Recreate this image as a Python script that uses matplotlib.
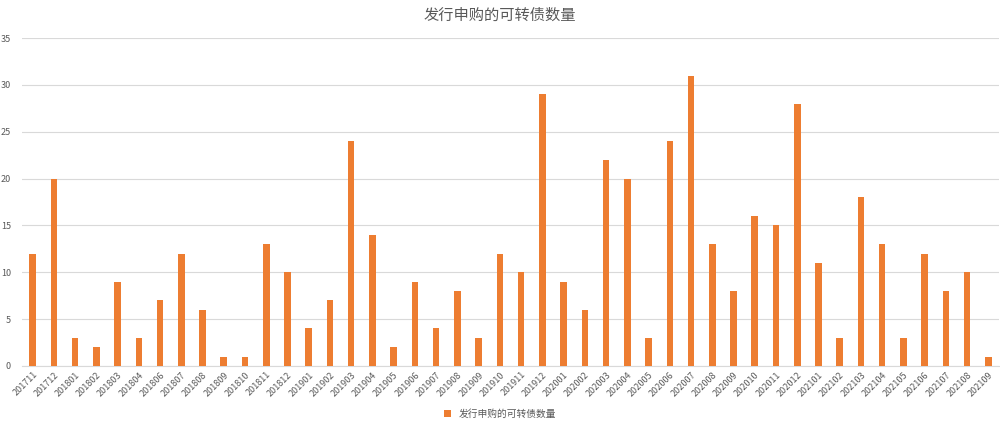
import matplotlib.pyplot as plt

plt.rcParams['font.family'] = ['Noto Sans CJK SC', 'DejaVu Sans']

months = ["201711", "201712", "201801", "201802", "201803", "201804", "201806", "201807",
          "201808", "201809", "201810", "201811", "201812", "201901", "201902", "201903",
          "201904", "201905", "201906", "201907", "201908", "201909", "201910", "201911",
          "201912", "202001", "202002", "202003", "202004", "202005", "202006", "202007",
          "202008", "202009", "202010", "202011", "202012", "202101", "202102", "202103",
          "202104", "202105", "202106", "202107", "202108", "202109"]
counts = [12, 20, 3, 2, 9, 3, 7, 12, 6, 1, 1, 13, 10, 4, 7, 24, 14, 2, 9, 4, 8, 3, 12, 10,
          29, 9, 6, 22, 20, 3, 24, 31, 13, 8, 16, 15, 28, 11, 3, 18, 13, 3, 12, 8, 10, 1]
series_name = "发行申购的可转债数量"

fig = plt.figure(figsize=(10, 4.28), dpi=100)
ax = fig.add_axes([0.022, 0.145, 0.977, 0.766])

x = range(len(months))
ax.bar(x, counts, width=0.31, color="#ED7D31", label=series_name, zorder=3)

ax.set_xlim(-0.5, len(months) - 0.5)
ax.set_ylim(0, 35)
ax.set_yticks(range(0, 36, 5))
ax.set_xticks(list(x))
ax.set_xticklabels(months, rotation=45, ha="right", rotation_mode="anchor",
                   fontsize=6.5, color="#595959")
ax.tick_params(axis="y", labelsize=6.5, labelcolor="#595959", length=0, pad=8)
ax.tick_params(axis="x", length=0, pad=3)
ax.grid(axis="y", color="#D9D9D9", linewidth=0.8, zorder=0)
for s in ["top", "right", "left"]:
    ax.spines[s].set_visible(False)
ax.spines["bottom"].set_color("#D9D9D9")

fig.suptitle(series_name, y=0.985, fontsize=11, color="#595959")
fig.legend(loc="lower center", bbox_to_anchor=(0.5, 0.0), frameon=False,
           fontsize=7, handlelength=0.7, handleheight=0.7, labelcolor="#595959")

fig.savefig("out.png", dpi=100)
